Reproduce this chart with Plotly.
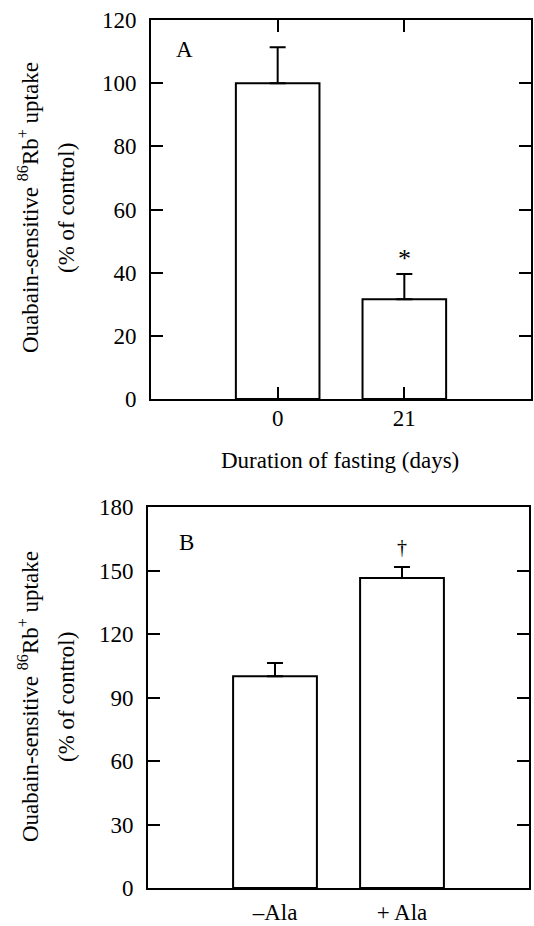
import plotly.graph_objects as go

# Panel A data
cats_a = ["0", "21"]
vals_a = [100, 31.6]
err_a = [11.4, 8.0]
# Panel B data
cats_b = ["\u2013Ala", "+ Ala"]
vals_b = [100, 146.4]
err_b = [6.3, 5.2]

yticks_a = [0, 20, 40, 60, 80, 100, 120]
yticks_b = [0, 30, 60, 90, 120, 150, 180]

FONT = "Liberation Serif"
FS = 23
W, H = 534, 926

fig = go.Figure()
bar_style = dict(marker=dict(color="white", line=dict(color="black", width=2)),
                 width=0.66, showlegend=False, hoverinfo="skip")
fig.add_trace(go.Bar(x=cats_a, y=vals_a, xaxis="x", yaxis="y",
                     error_y=dict(type="data", symmetric=False, array=err_a,
                                  arrayminus=[0, 0], color="black", thickness=2, width=8),
                     **bar_style))
fig.add_trace(go.Bar(x=cats_b, y=vals_b, xaxis="x2", yaxis="y2",
                     error_y=dict(type="data", symmetric=False, array=err_b,
                                  arrayminus=[0, 0], color="black", thickness=2, width=8),
                     **bar_style))

def px_x(p):
    return p / W

def px_y(p):
    return 1 - p / H

axis_common = dict(showline=True, linecolor="black", linewidth=2,
                   ticklen=12, tickwidth=2, tickcolor="black",
                   showgrid=False, zeroline=False, automargin=False,
                   tickfont=dict(family=FONT, size=FS, color="black"))

fig.update_layout(
    template="none",
    width=W, height=H,
    margin=dict(l=0, r=0, t=0, b=0, pad=0),
    paper_bgcolor="white", plot_bgcolor="white",
    font=dict(family=FONT, size=FS, color="black"),
    xaxis=dict(domain=[px_x(151), px_x(531)], anchor="y", range=[-1, 2],
               type="category", ticks="inside", mirror="ticks",
               ticklabelstandoff=-3, **axis_common),
    yaxis=dict(domain=[px_y(399), px_y(20)], anchor="x", range=[0, 120],
               tickvals=yticks_a, ticks="inside", mirror="ticks",
               ticklabelstandoff=8, **axis_common),
    xaxis2=dict(domain=[px_x(148), px_x(529)], anchor="y2", range=[-1, 2],
                type="category", ticks="", mirror=True,
                ticklabelstandoff=2, **axis_common),
    yaxis2=dict(domain=[px_y(888), px_y(507)], anchor="x2", range=[0, 180],
                tickvals=yticks_b, ticks="inside", mirror="ticks",
                ticklabelstandoff=8, **axis_common),
)

tfont = dict(family=FONT, size=FS, color="black")
ann = []
# Panel labels
ann.append(dict(text="A", xref="x domain", yref="y domain", x=0.089, y=0.921,
                showarrow=False, font=tfont, xanchor="center", yanchor="middle"))
ann.append(dict(text="B", xref="x2 domain", yref="y2 domain", x=0.102, y=0.908,
                showarrow=False, font=tfont, xanchor="center", yanchor="middle"))
# Significance marks
ann.append(dict(text="*", xref="x", yref="y", x=1, y=44.5,
                showarrow=False, font=dict(family=FONT, size=26, color="black"),
                xanchor="center", yanchor="middle"))
ann.append(dict(text="\u2020", xref="x2", yref="y2", x=1, y=161,
                showarrow=False, font=dict(family=FONT, size=20, color="black"),
                xanchor="center", yanchor="middle"))
# X axis title panel A
ann.append(dict(text="Duration of fasting (days)", xref="paper", yref="paper",
                x=px_x(340), y=px_y(460), showarrow=False, font=tfont,
                xanchor="center", yanchor="middle"))
# Y axis titles
for yc in (208, 697):
    ann.append(dict(text="Ouabain-sensitive <sup>86</sup>Rb<sup>+</sup> uptake",
                    xref="paper", yref="paper", x=px_x(28), y=px_y(yc),
                    showarrow=False, font=tfont, textangle=-90,
                    xanchor="center", yanchor="middle"))
    ann.append(dict(text="(% of control)",
                    xref="paper", yref="paper", x=px_x(66), y=px_y(yc),
                    showarrow=False, font=tfont, textangle=-90,
                    xanchor="center", yanchor="middle"))
fig.update_layout(annotations=ann)

fig.write_html("out.html")
